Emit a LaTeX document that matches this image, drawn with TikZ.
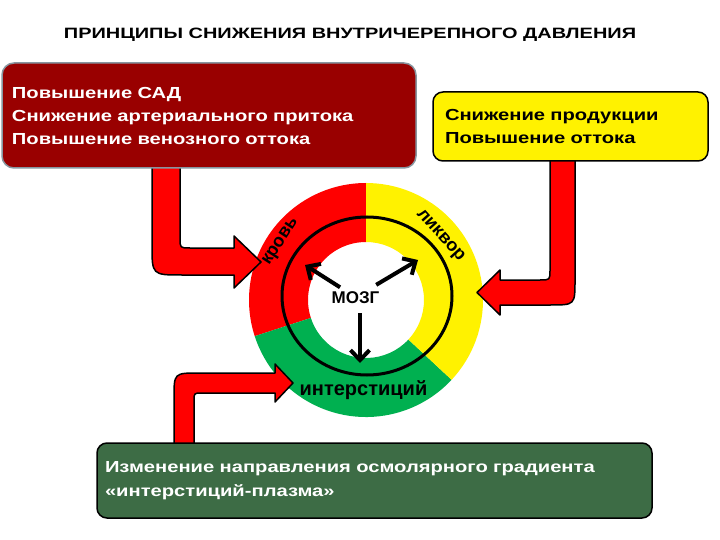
\documentclass[tikz,border=0pt]{standalone}
\usepackage{fontspec}
\setmainfont{Liberation Sans}
\newfontfamily\boxfont[FakeStretch=1.26]{Liberation Sans}
\newfontfamily\headfont[FakeStretch=1.33]{Liberation Sans}
\usetikzlibrary{arrows.meta}
\definecolor{boxred}{RGB}{153,0,0}
\definecolor{boxgreen}{RGB}{61,108,69}
\definecolor{ringgreen}{RGB}{0,176,80}
\definecolor{boxgray}{RGB}{135,150,160}
\tikzset{
	infobox/.style={rectangle, rounded corners=12pt, line width=1.5pt, align=left, font=\boxfont\bfseries\fontsize{16}{23}\selectfont},
	bentarrow/.style={fill=red, draw=black, line width=1.5pt, line join=round},
	brainarrow/.style={line width=4pt, -{Straight Barb[length=10pt, width=19pt]}},
	ringlabel/.style={font=\bfseries\fontsize{18}{18}\selectfont}
}

\begin{document}
\begin{tikzpicture}[x=1pt, y=-1pt]
		\useasboundingbox[fill=white] (0, 0) rectangle (720, 540);
		\node(TITLE) at (350, 39)[anchor=base, font=\headfont\bfseries\fontsize{15}{15}\selectfont]{ПРИНЦИПЫ СНИЖЕНИЯ ВНУТРИЧЕРЕПНОГО ДАВЛЕНИЯ};
		\begin{scope}[shift={(366, 300)}, yscale=-1]
			\fill[red] (90:117) arc[start angle=90, end angle=198, radius=117]--(198:58) arc[start angle=198, end angle=90, radius=58]--cycle;
			\fill[ringgreen] (198:117) arc[start angle=198, end angle=317, radius=117]--(317:58) arc[start angle=317, end angle=198, radius=58]--cycle;
			\fill[yellow] (317:117) arc[start angle=317, end angle=450, radius=117]--(450:58) arc[start angle=450, end angle=317, radius=58]--cycle;
		\end{scope}
		\draw[line width=3pt] (367, 296) ellipse [x radius=85pt, y radius=79pt];
		\node(BLOOD) at (281, 242)[ringlabel, inner sep=0pt, rotate=57]{кровь};
		\node(CSF) at (440, 236)[ringlabel, inner sep=0pt, rotate=-48]{ликвор};
		\node(INTERST) at (363.5, 395)[anchor=base, font=\bfseries\fontsize{20}{20}\selectfont]{интерстиций};
		\node(BRAIN) at (355.5, 303)[anchor=base, inner sep=2pt, font=\bfseries\fontsize{17}{17}\selectfont]{МОЗГ};
		\coordinate(TOBLOOD) at (305, 265);
		\coordinate(TOCSF) at (418, 260);
		\coordinate(TOINT) at (360, 363);
		\draw[brainarrow, shorten <=3pt] (BRAIN)--(TOBLOOD);
		\draw[brainarrow, shorten <=8pt] (BRAIN)--(TOCSF);
		\draw[brainarrow, shorten <=8pt] (BRAIN.south -| TOINT)--(TOINT);
		\draw[bentarrow] (152, 160)--(152, 245) .. controls (152, 275) .. (182, 275)--(234, 275)--(234, 288)--(261, 262)--(234, 236)--(234, 248)--(190, 248) .. controls (180, 248) .. (180, 238)--(180, 160)--cycle;
		\draw[bentarrow] (550, 155)--(550, 270) .. controls (550, 280) .. (540, 280)--(500, 280)--(500, 270)--(477, 292.5)--(500, 315)--(500, 305)--(550, 305) .. controls (575, 305) .. (575, 280)--(575, 155)--cycle;
		\draw[bentarrow] (174, 450)--(174, 398) .. controls (174, 373) .. (199, 373)--(275, 373)--(275, 364)--(293, 383)--(275, 402)--(275, 393)--(202, 393) .. controls (194, 393) .. (194, 401)--(194, 450)--cycle;
		\node(SAD) at (209, 115.5)[infobox, fill=boxred, draw=boxgray, text=white, inner xsep=10pt, minimum width=414pt, minimum height=105pt, text width=394pt]{Повышение САД\\Снижение артериального притока\\Повышение венозного оттока};
		\node(LIQUOR) at (570.5, 126.5)[infobox, rounded corners=10pt, fill=yellow, draw=black, inner xsep=12pt, minimum width=275pt, minimum height=69pt, text width=251pt]{Снижение продукции\\Повышение оттока};
		\node(OSMO) at (374.5, 480.5)[infobox, rounded corners=10pt, fill=boxgreen, draw=black, text=white, inner xsep=8pt, minimum width=555pt, minimum height=75pt, text width=539pt, font=\boxfont\bfseries\fontsize{16}{24}\selectfont]{Изменение направления осмолярного градиента\\«интерстиций-плазма»};
\end{tikzpicture}
\end{document}
